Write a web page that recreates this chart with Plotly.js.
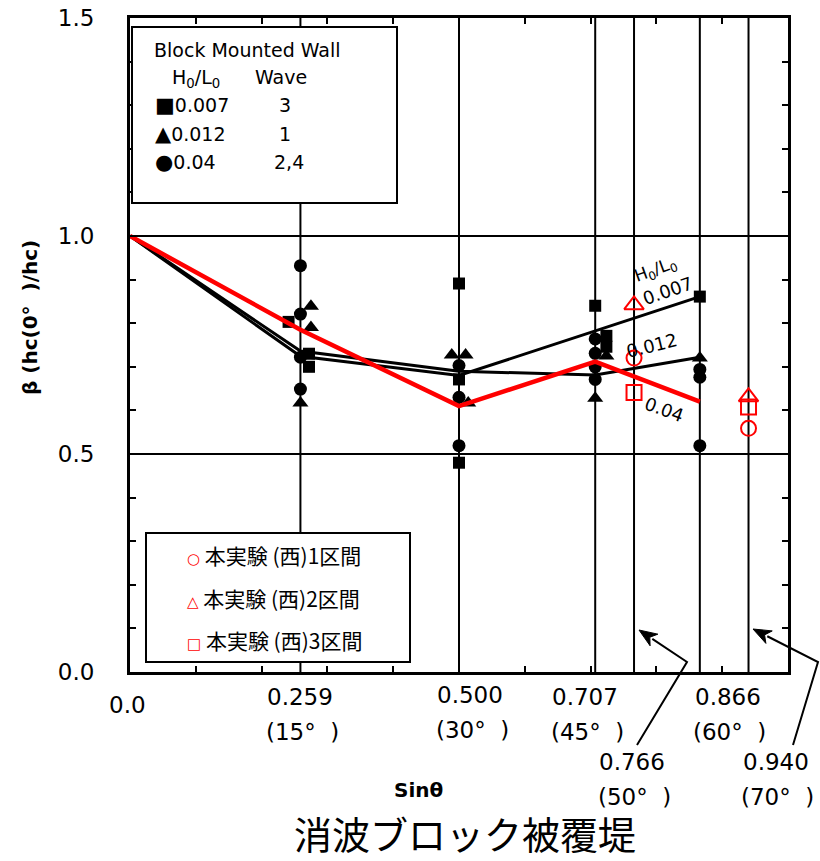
<!DOCTYPE html>
<html>
<head>
<meta charset="utf-8">
<script src="https://cdn.plot.ly/plotly-3.0.1.min.js"></script>
<style>html,body{margin:0;padding:0;background:#fff;}#chart{width:820px;height:861px;}</style>
</head>
<body>
<div id="chart"></div>
<script>
// ---------------- data ----------------
// H0/L0 = 0.007 (Wave 3) - squares
const sqX = [0.241, 0.272, 0.272, 0.5, 0.5, 0.5, 0.707, 0.724, 0.724, 0.866];
const sqY = [0.803, 0.730, 0.700, 0.891, 0.671, 0.480, 0.840, 0.771, 0.746, 0.861];
// H0/L0 = 0.012 (Wave 1) - triangles
const trX = [0.275, 0.275, 0.259, 0.489, 0.510, 0.514, 0.724, 0.707, 0.866];
const trY = [0.839, 0.790, 0.617, 0.727, 0.727, 0.617, 0.725, 0.628, 0.720];
// H0/L0 = 0.04 (Wave 2,4) - circles
const ciX = [0.259, 0.259, 0.259, 0.259, 0.5, 0.5, 0.5, 0.707, 0.707, 0.707, 0.707, 0.866, 0.866, 0.866];
const ciY = [0.932, 0.821, 0.722, 0.649, 0.703, 0.630, 0.519, 0.764, 0.731, 0.700, 0.671, 0.694, 0.676, 0.519];
// fitted lines
const line007X = [0, 0.259, 0.5, 0.866];
const line007Y = [1.0, 0.724, 0.680, 0.861];
const line012X = [0, 0.259, 0.5, 0.707, 0.866];
const line012Y = [1.0, 0.736, 0.690, 0.681, 0.722];
const line04X = [0, 0.259, 0.5, 0.707, 0.866];
const line04Y = [1.0, 0.785, 0.610, 0.712, 0.620];
// 本実験 (西)
const expX = [0.766, 0.940];
const exp1Y = [0.720, 0.559];
const exp2Y = [0.842, 0.631];
const exp3Y = [0.641, 0.608];
// axes / labels
const gridX = [0.259, 0.5, 0.707, 0.766, 0.866, 0.940];
const gridY = [0.5, 1.0];
const xTickVals = [0, 0.259, 0.5, 0.707, 0.766, 0.866, 0.940];
const xTickNums = ['0.0', '0.259', '0.500', '0.707', '0.766', '0.866', '0.940'];
const xTickDeg = ['', '(15°\u00a0\u00a0)', '(30°\u00a0\u00a0)', '(45°\u00a0\u00a0)', '(50°\u00a0\u00a0)', '(60°\u00a0\u00a0)', '(70°\u00a0\u00a0)'];
const yTickVals = [0, 0.5, 1.0, 1.5];
const yTickText = ['0.0', '0.5', '1.0', '1.5'];
const legendTitle = 'Block Mounted Wall';
const legendRatios = ['0.007', '0.012', '0.04'];
const legendWaves = ['3', '1', '2,4'];
const legendGlyphs = ['■', '▲', '●'];
const expNames = ['本実験 (西)1区間', '本実験 (西)2区間', '本実験 (西)3区間'];
const expGlyphs = ['○', '△', '□'];
const lineLabels = ['0.007', '0.012', '0.04'];

// ---------------- styles ----------------
const RED = 'rgb(255,0,0)';
const TICKF = 'DejaVu Sans';
const CJK = 'Noto Sans CJK JP';
// pixel helpers for decorations (plot area 130..788 x 18..672)
const L = 130, R = 788, T = 18, B = 672;
const px = p => (p - L) / (R - L);
const py = p => (B - p) / (B - T);

const traces = [
  {x: line007X, y: line007Y, mode: 'lines', line: {color: 'black', width: 3}, showlegend: false, hoverinfo: 'skip'},
  {x: line012X, y: line012Y, mode: 'lines', line: {color: 'black', width: 3}, showlegend: false, hoverinfo: 'skip'},
  {x: sqX, y: sqY, mode: 'markers', marker: {symbol: 'square', size: 12, color: 'black'}, showlegend: false},
  {x: trX, y: trY, mode: 'markers', marker: {symbol: 'triangle-up', size: 14, color: 'black'}, showlegend: false},
  {x: ciX, y: ciY, mode: 'markers', marker: {symbol: 'circle', size: 13, color: 'black'}, showlegend: false},
  {x: line04X, y: line04Y, mode: 'lines', line: {color: RED, width: 4.5}, showlegend: false, hoverinfo: 'skip'},
  {x: expX, y: exp1Y, mode: 'markers', marker: {symbol: 'circle-open', size: 15, color: RED, line: {width: 2, color: RED}}, showlegend: false},
  {x: expX, y: exp2Y, mode: 'markers', marker: {symbol: 'triangle-up-open', size: 17, color: RED, line: {width: 2, color: RED}}, showlegend: false},
  {x: expX, y: exp3Y, mode: 'markers', marker: {symbol: 'square-open', size: 15, color: RED, line: {width: 2, color: RED}}, showlegend: false}
];

const shapes = [];
gridX.forEach(v => shapes.push({type: 'line', xref: 'x', yref: 'paper', x0: v, x1: v, y0: 0, y1: 1, line: {color: 'black', width: 2}, layer: 'below'}));
gridY.forEach(v => shapes.push({type: 'line', xref: 'paper', yref: 'y', x0: 0, x1: 1, y0: v, y1: v, line: {color: 'black', width: 2}, layer: 'below'}));
// legend boxes
shapes.push({type: 'rect', xref: 'paper', yref: 'paper', x0: px(132), x1: px(397), y0: py(203), y1: py(27), fillcolor: 'white', line: {color: 'black', width: 2}, layer: 'above'});
shapes.push({type: 'rect', xref: 'paper', yref: 'paper', x0: px(146), x1: px(410), y0: py(662), y1: py(533), fillcolor: 'white', line: {color: 'black', width: 2}, layer: 'above'});
// bent arrows: tail -> bend -> tip, with filled heads
function arrow(tail, bend, tip, len, half) {
  const dx = tip[0] - bend[0], dy = tip[1] - bend[1];
  const d = Math.hypot(dx, dy), ux = dx / d, uy = dy / d;
  const bx = tip[0] - ux * len, by = tip[1] - uy * len;
  const p1 = [bx - uy * half, by + ux * half], p2 = [bx + uy * half, by - ux * half];
  shapes.push({type: 'path', xref: 'paper', yref: 'paper', layer: 'above', line: {color: 'black', width: 2},
    path: 'M' + px(tail[0]) + ',' + py(tail[1]) + ' L' + px(bend[0]) + ',' + py(bend[1]) + ' L' + px(bx + ux * 2) + ',' + py(by + uy * 2)});
  shapes.push({type: 'path', xref: 'paper', yref: 'paper', layer: 'above', fillcolor: 'black', line: {color: 'black', width: 1},
    path: 'M' + px(tip[0]) + ',' + py(tip[1]) + ' L' + px(p1[0]) + ',' + py(p1[1]) + ' L' + px(bx + ux * 5) + ',' + py(by + uy * 5) + ' L' + px(p2[0]) + ',' + py(p2[1]) + ' Z'});
}
arrow([637, 745], [687, 662], [639, 630], 18, 7);
arrow([793, 745], [818, 662], [753, 629], 18, 7);

const ann = [];
// x tick labels (two lines)
const numShiftX = [-3, 0, 11, -10, -2, 28, 27];
const numShiftY = [-33, -25, -23, -25, -90, -25, -90];
xTickVals.forEach((v, i) => {
  ann.push({xref: 'x', yref: 'paper', x: v, y: 0, xshift: numShiftX[i], yshift: numShiftY[i], text: xTickNums[i], showarrow: false, xanchor: 'center', yanchor: 'middle', font: {family: TICKF, size: 23, color: 'black'}});
  if (xTickDeg[i]) ann.push({xref: 'x', yref: 'paper', x: v, y: 0, xshift: numShiftX[i] + 2, yshift: numShiftY[i] - 35, text: xTickDeg[i], showarrow: false, xanchor: 'center', yanchor: 'middle', font: {family: TICKF, size: 23, color: 'black'}});
});
// axis titles & chart title
ann.push({xref: 'paper', yref: 'paper', x: px(30), y: py(318), text: '<b>β (hc(0°\u00a0\u00a0)/hc)</b>', textangle: -90, showarrow: false, xanchor: 'center', yanchor: 'middle', font: {family: 'DejaVu Sans', size: 20, color: 'black'}});
ann.push({xref: 'paper', yref: 'paper', x: px(418), y: py(790), text: '<b>Sinθ</b>', showarrow: false, xanchor: 'center', yanchor: 'middle', font: {family: 'DejaVu Sans', size: 20, color: 'black'}});
ann.push({xref: 'paper', yref: 'paper', x: px(465), y: py(832), text: '消波ブロック被覆堤', showarrow: false, xanchor: 'center', yanchor: 'middle', font: {family: CJK, size: 38, color: 'black'}});
// top legend
const LF = {family: 'DejaVu Sans', size: 19, color: 'black'};
ann.push({xref: 'paper', yref: 'paper', x: px(152), y: py(50), text: legendTitle, showarrow: false, xanchor: 'left', yanchor: 'middle', font: LF});
ann.push({xref: 'paper', yref: 'paper', x: px(170), y: py(79), text: 'H<sub>0</sub>/L<sub>0</sub>', showarrow: false, xanchor: 'left', yanchor: 'middle', font: LF});
ann.push({xref: 'paper', yref: 'paper', x: px(253), y: py(77), text: 'Wave', showarrow: false, xanchor: 'left', yanchor: 'middle', font: LF});
const rowY = [105, 134, 162];
const waveX = [277, 277, 272];
legendRatios.forEach((r, i) => {
  ann.push({xref: 'paper', yref: 'paper', x: px(153), y: py(rowY[i]), text: '<span style="font-size:21px">' + legendGlyphs[i] + '</span>' + r, showarrow: false, xanchor: 'left', yanchor: 'middle', font: LF});
  ann.push({xref: 'paper', yref: 'paper', x: px(waveX[i]), y: py(rowY[i]), text: legendWaves[i], showarrow: false, xanchor: 'left', yanchor: 'middle', font: LF});
});
// bottom legend
const expRowY = [555, 598, 640];
expNames.forEach((n, i) => {
  ann.push({xref: 'paper', yref: 'paper', x: px(185), y: py(expRowY[i]), text: '<span style="color:' + RED + ';font-family:DejaVu Sans;font-size:15px;font-weight:bold">' + expGlyphs[i] + '</span>\u00a0' + n, showarrow: false, xanchor: 'left', yanchor: 'middle', font: {family: CJK, size: 21, color: 'black'}});
});
// line labels
const LL = {family: 'DejaVu Sans', size: 18, color: 'black'};
ann.push({xref: 'x', yref: 'y', x: 0.798, y: 0.922, text: 'H<sub>0</sub>/L<sub>0</sub>', textangle: -20, showarrow: false, font: {family: 'DejaVu Sans', size: 17, color: 'black'}});
ann.push({xref: 'x', yref: 'y', x: 0.818, y: 0.874, text: lineLabels[0], textangle: -19, showarrow: false, font: LL});
ann.push({xref: 'x', yref: 'y', x: 0.793, y: 0.748, text: lineLabels[1], textangle: -14, showarrow: false, font: LL});
ann.push({xref: 'x', yref: 'y', x: 0.812, y: 0.601, text: lineLabels[2], textangle: 20, showarrow: false, font: LL});

const layout = {
  width: 820, height: 861,
  margin: {l: L, r: 820 - R, t: T, b: 861 - B},
  paper_bgcolor: 'white', plot_bgcolor: 'white',
  showlegend: false,
  xaxis: {range: [0, 1], showgrid: false, zeroline: false, ticks: 'inside', tick0: 0, dtick: 0.1, ticklen: 6, tickwidth: 2, tickcolor: 'black',
          showticklabels: false, showline: true, linewidth: 3, linecolor: 'black', mirror: 'ticks', fixedrange: true},
  yaxis: {range: [0, 1.5], showgrid: false, zeroline: false, tickmode: 'array', tickvals: yTickVals, ticktext: yTickText,
          ticks: 'inside', ticklen: 6, tickwidth: 2, tickcolor: 'black', ticklabelstandoff: 28,
          minor: {tickmode: 'linear', tick0: 0, dtick: 0.1, ticks: 'inside', ticklen: 6, tickwidth: 2, tickcolor: 'black'},
          tickfont: {family: TICKF, size: 23, color: 'black'}, showline: true, linewidth: 3, linecolor: 'black', mirror: 'ticks', fixedrange: true},
  shapes: shapes,
  annotations: ann
};

Plotly.newPlot('chart', traces, layout, {displayModeBar: false, staticPlot: true});
</script>
</body>
</html>
